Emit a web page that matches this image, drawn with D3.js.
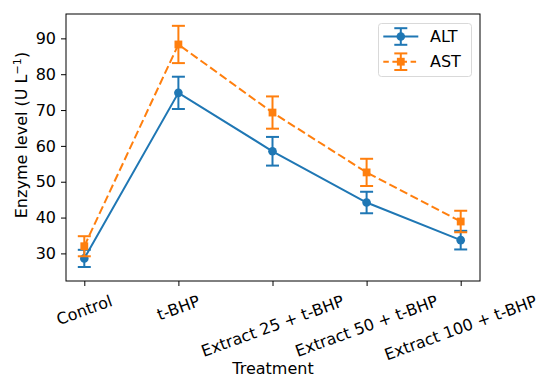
<!DOCTYPE html>
<html><head><meta charset="utf-8">
<script src="https://cdn.jsdelivr.net/npm/d3@7"></script>
<style>body{margin:0;background:#fff}svg{display:block}text{font-family:"DejaVu Sans",sans-serif}</style>
</head><body><svg id="c" width="541" height="379"></svg>
<script>
const categories = ["Control","t-BHP","Extract 25 + t-BHP","Extract 50 + t-BHP","Extract 100 + t-BHP"];
const altValues = [28.6, 74.8, 58.5, 44.2, 33.7];
const altErrors = [2.4, 4.5, 4.0, 3.0, 2.6];
const astValues = [32.0, 88.3, 69.3, 52.6, 38.9];
const astErrors = [2.8, 5.2, 4.5, 3.8, 3.0];
const yTicks = [30,40,50,60,70,80,90];

const svg = d3.select("#c");
const L=66, R=480, T=14, B=281;
const FS = 16;
const x = d3.scalePoint().domain(categories).range([84.3,460.7]);
const y = d3.scaleLinear().domain([22.3,96.8]).range([B,T]);

const series = [
  {name:"ALT", vals:altValues, errs:altErrors, color:"#1f77b4", dash:null, marker:"circle"},
  {name:"AST", vals:astValues, errs:astErrors, color:"#ff7f0e", dash:"8.3,3.6", marker:"square"}
];

// axes
const yAxis = d3.axisLeft(y).tickValues(yTicks).tickSize(5).tickPadding(5);
const gy = svg.append("g").attr("transform",`translate(${L},0)`).call(yAxis);
gy.select(".domain").remove();
gy.selectAll("text").attr("font-size",FS).attr("fill","#000").style("font-family","DejaVu Sans");
gy.selectAll("line").attr("stroke","#000");

const xAxis = d3.axisBottom(x).tickSize(5).tickFormat("");
const gx = svg.append("g").attr("transform",`translate(0,${B})`).call(xAxis);
gx.select(".domain").remove();
gx.selectAll("line").attr("stroke","#000");

// rotated x tick labels (centered, 20deg)
const ang = 20*Math.PI/180;
categories.forEach(c=>{
  const t = svg.append("text").attr("font-size",FS).attr("fill","#000")
    .attr("text-anchor","middle").attr("dominant-baseline","central").text(c);
  const w = t.node().getComputedTextLength();
  const h = FS*1.17;
  const bh = w*Math.sin(ang)+h*Math.cos(ang);
  const cx = x(c), cy = B+5+5.5+bh/2;
  t.attr("transform",`translate(${cx},${cy}) rotate(-20)`);
});

// frame
svg.append("rect").attr("x",L).attr("y",T).attr("width",R-L).attr("height",B-T)
  .attr("fill","none").attr("stroke","#000").attr("stroke-width",1);

// labels
svg.append("text").attr("x",273).attr("y",374).attr("text-anchor","middle").attr("font-size",FS).text("Treatment");
const yl = svg.append("text").attr("transform","translate(27,135) rotate(-90)").attr("text-anchor","middle").attr("font-size",FS);
yl.append("tspan").text("Enzyme level (U L");
yl.append("tspan").attr("font-size",FS*0.7).attr("dy",-6).text("−1");
yl.append("tspan").attr("dy",6).text(")");

// series
const line = d3.line().x((d,i)=>x(categories[i])).y(d=>y(d));
const cap = 6.5;
function drawMarker(g, type, cx, cy, color){
  if(type==="circle") g.append("circle").attr("cx",cx).attr("cy",cy).attr("r",4.3).attr("fill",color);
  else g.append("rect").attr("x",cx-3.9).attr("y",cy-3.9).attr("width",7.8).attr("height",7.8).attr("fill",color);
}
series.forEach(s=>{
  const g = svg.append("g");
  g.append("path").datum(s.vals).attr("d",line).attr("fill","none").attr("stroke",s.color)
    .attr("stroke-width",2).attr("stroke-dasharray",s.dash);
  s.vals.forEach((v,i)=>{
    const cx = x(categories[i]);
    const y0 = y(v - s.errs[i]), y1 = y(v + s.errs[i]);
    g.append("line").attr("x1",cx).attr("x2",cx).attr("y1",y0).attr("y2",y1).attr("stroke",s.color).attr("stroke-width",2);
    [y0,y1].forEach(yy=>g.append("line").attr("x1",cx-cap).attr("x2",cx+cap).attr("y1",yy).attr("y2",yy).attr("stroke",s.color).attr("stroke-width",2));
    drawMarker(g, s.marker, cx, y(v), s.color);
  });
});

// legend
const lg = svg.append("g");
lg.append("rect").attr("x",378.5).attr("y",23.5).attr("width",93).attr("height",53).attr("rx",3)
  .attr("fill","#fff").attr("fill-opacity",0.8).attr("stroke","#d9d9d9");
series.forEach((s,i)=>{
  const cy = 36.5 + i*25.2, cx = 400.8;
  lg.append("line").attr("x1",383.3).attr("x2",418.3).attr("y1",cy).attr("y2",cy).attr("stroke",s.color)
    .attr("stroke-width",2).attr("stroke-dasharray",s.dash ? "5.5,3.6" : null);
  lg.append("line").attr("x1",cx).attr("x2",cx).attr("y1",cy-8.3).attr("y2",cy+8.3).attr("stroke",s.color).attr("stroke-width",2);
  [cy-8.3,cy+8.3].forEach(yy=>lg.append("line").attr("x1",cx-cap).attr("x2",cx+cap).attr("y1",yy).attr("y2",yy).attr("stroke",s.color).attr("stroke-width",2));
  drawMarker(lg, s.marker, cx, cy, s.color);
  lg.append("text").attr("x",430).attr("y",cy).attr("dominant-baseline","central").attr("font-size",FS).text(s.name);
});
</script></body></html>
